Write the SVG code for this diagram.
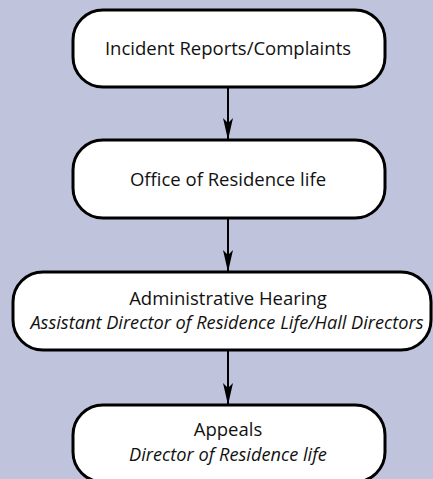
<svg xmlns="http://www.w3.org/2000/svg" width="433" height="479" viewBox="0 0 433 479">
  <style>
    .box { fill: #ffffff; stroke: #000000; stroke-width: 3; }
    .t { font-family: "Open Sans", "Liberation Sans", sans-serif; font-size: 18.5px; fill: #111111; text-anchor: middle; }
    .i { font-style: italic; font-size: 18.2px; }
    .edge { stroke: #000000; stroke-width: 2; fill: none; marker-end: url(#head); }
  </style>
  <defs>
    <!-- narrow dart-shaped arrowhead, tip at the end of the line -->
    <marker id="head" viewBox="0 0 22 10" refX="22" refY="5" markerWidth="22" markerHeight="10" markerUnits="userSpaceOnUse" orient="auto">
      <path d="M0,0 L22,5 L0,10 L5,5 Z" fill="#000000"/>
    </marker>
  </defs>
  <rect x="0" y="0" width="433" height="479" fill="#bfc4dc"/>

  <g id="connectors">
    <line class="edge" x1="228" y1="87" x2="228" y2="140"/>
    <line class="edge" x1="228" y1="218" x2="228" y2="272"/>
    <line class="edge" x1="228" y1="350" x2="228" y2="405"/>
  </g>

  <g id="incident-reports">
    <rect class="box" x="73" y="10" width="312" height="77" rx="30" ry="30"/>
    <text class="t" x="228" y="55">Incident Reports/Complaints</text>
  </g>

  <g id="office-residence-life">
    <rect class="box" x="73" y="140" width="312" height="78" rx="30" ry="30"/>
    <text class="t" x="228" y="186">Office of Residence life</text>
  </g>

  <g id="administrative-hearing">
    <rect class="box" x="13" y="272" width="418" height="78" rx="30" ry="30"/>
    <text class="t" x="228" y="305">Administrative Hearing</text>
    <text class="t i" x="227" y="329">Assistant Director of Residence Life/Hall Directors</text>
  </g>

  <g id="appeals">
    <rect class="box" x="73" y="405" width="312" height="77" rx="30" ry="30"/>
    <text class="t" x="228" y="436">Appeals</text>
    <text class="t i" x="228" y="461">Director of Residence life</text>
  </g>
</svg>
